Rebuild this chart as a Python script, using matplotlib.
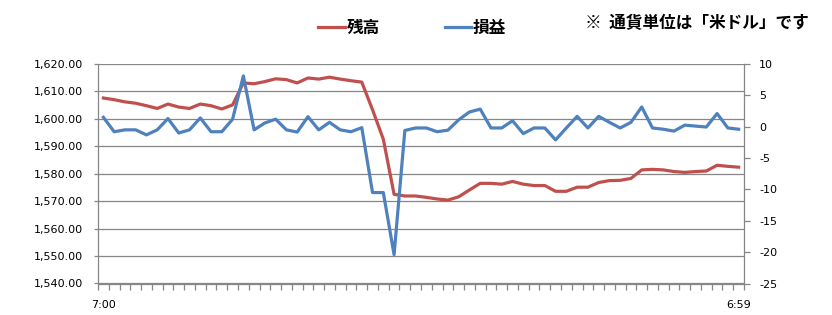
import numpy as np
import matplotlib.pyplot as plt
from matplotlib.ticker import FuncFormatter

plt.rcParams['axes.unicode_minus'] = False

# 残高 (left axis) and 損益 (right axis), 60 points
balance = [1607.6, 1607.0, 1606.2, 1605.7, 1604.8, 1603.8, 1605.4, 1604.3, 1603.8, 1605.4,
           1604.8, 1603.6, 1605.1, 1613.1, 1612.8, 1613.6, 1614.6, 1614.3, 1613.1, 1614.9,
           1614.5, 1615.2, 1614.5, 1613.9, 1613.4, 1603.3, 1592.6, 1572.5, 1571.9, 1571.9,
           1571.4, 1570.8, 1570.4, 1571.6, 1574.1, 1576.5, 1576.5, 1576.2, 1577.2, 1576.2,
           1575.7, 1575.7, 1573.6, 1573.6, 1575.1, 1575.1, 1576.8, 1577.5, 1577.6, 1578.3,
           1581.4, 1581.6, 1581.4, 1580.8, 1580.5, 1580.8, 1581.0, 1583.1, 1582.7, 1582.4]
profit = [1.5, -0.8, -0.5, -0.5, -1.3, -0.5, 1.3, -1.0, -0.5, 1.4,
          -0.8, -0.8, 1.2, 8.1, -0.5, 0.6, 1.2, -0.5, -0.85, 1.6,
          -0.5, 0.7, -0.5, -0.8, -0.15, -10.5, -10.5, -20.4, -0.6, -0.2,
          -0.2, -0.8, -0.55, 1.1, 2.35, 2.8, -0.2, -0.2, 0.95, -1.1,
          -0.2, -0.2, -2.1, -0.2, 1.65, -0.2, 1.65, 0.7, -0.2, 0.7,
          3.15, -0.2, -0.4, -0.7, 0.25, 0.1, -0.05, 2.1, -0.2, -0.4]
x_labels = ['7:00', '6:59']
series_names = ['残高', '損益']
note = '※  通貨単位は「米ドル」です'

red = '#C0504D'
blue = '#4F81BD'
grid = '#868686'

fig = plt.figure(figsize=(8.32, 3.15), dpi=100)
ax = fig.add_axes([98 / 832, 1 - 283.5 / 315, 646 / 832, 219.5 / 315])
ax2 = ax.twinx()

x = np.arange(len(balance))
l1, = ax.plot(x, balance, color=red, lw=2.3, solid_joinstyle='round')
l2, = ax2.plot(x, profit, color=blue, lw=2.3, solid_joinstyle='round')

ax.set_xlim(-0.5, len(balance) - 0.5)
ax.set_ylim(1540, 1620)
ax.set_yticks(np.arange(1540, 1621, 10))
ax.yaxis.set_major_formatter(FuncFormatter(lambda v, p: f'{v:,.2f}'))
ax.grid(axis='y', color=grid, lw=0.9)
ax.set_axisbelow(True)

ax2.set_ylim(-25, 10)
ax2.set_yticks(np.arange(-25, 11, 5))

ax.set_xticks([0, len(balance) - 1])
ax.set_xticklabels(x_labels)
ax.set_xticks(np.arange(-0.5, len(balance)), minor=True)
ax.tick_params(axis='x', which='major', length=0, pad=12, labelsize=8)
ax.tick_params(axis='x', which='minor', length=4, width=0.9, color=grid, direction='out')
ax.tick_params(axis='y', length=3, width=0.9, color=grid, pad=8, labelsize=8)
ax2.tick_params(axis='y', length=4, width=0.9, color=grid, pad=7, labelsize=8)

for a in (ax, ax2):
    a.spines['top'].set_visible(False)
    for s in ('left', 'right', 'bottom'):
        a.spines[s].set_color(grid)
        a.spines[s].set_linewidth(0.9)
ax2.spines['left'].set_visible(False)
ax2.spines['bottom'].set_visible(False)
ax.spines['right'].set_visible(False)

cjk = ['Noto Sans CJK JP', 'DejaVu Sans']
fig.legend([l1, l2], series_names, loc='center left',
           bbox_to_anchor=(318 / 832, 1 - 28 / 315), ncol=2, frameon=False,
           borderpad=0, borderaxespad=0, handlelength=1.6, handletextpad=0.1,
           columnspacing=3.9, prop={'family': cjk, 'size': 12, 'weight': 'bold'})
fig.text(585 / 832, 1 - 23 / 315, note, family=cjk, fontsize=12, weight='bold',
         ha='left', va='center')

fig.savefig('out.png', dpi=100)
